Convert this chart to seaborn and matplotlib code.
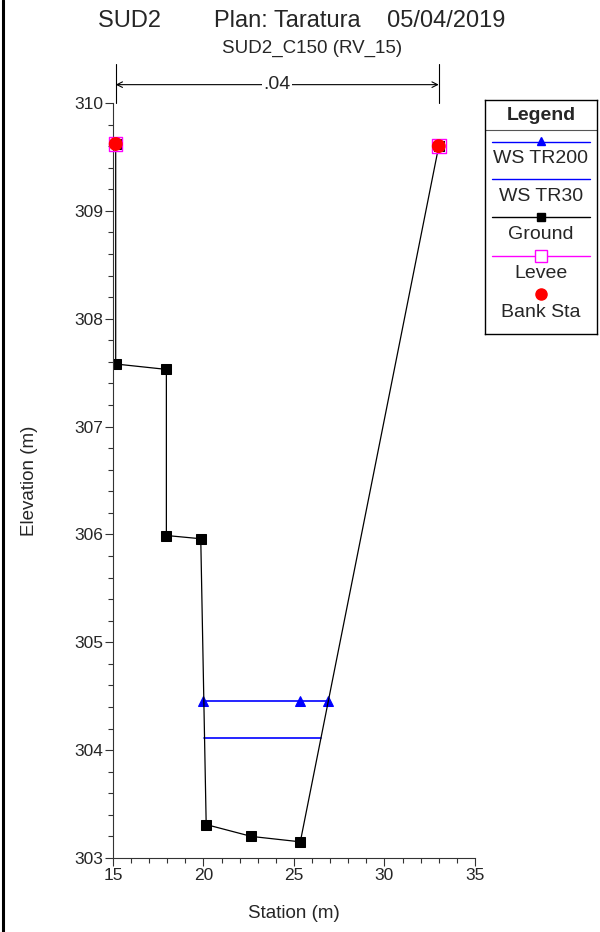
import pandas as pd
import matplotlib.pyplot as plt
import seaborn as sns
from matplotlib.lines import Line2D

# =========================
# DATA
# =========================

ground_sta = [15.15, 15.15, 17.95, 17.95, 19.85, 20.15, 22.65, 25.35, 33.0]
ground_elev = [309.62, 307.58, 307.53, 305.99, 305.96, 303.31, 303.20, 303.15, 309.60]

ws200_sta = [20.0, 25.35, 26.9]
ws200_elev = [304.46, 304.46, 304.46]

ws30_sta = [20.05, 26.5]
ws30_elev = [304.11, 304.11]

bank_sta = [15.15, 33.0]
bank_elev = [309.62, 309.60]

mann_n = ".04"

legend_labels = ["WS TR200", "WS TR30", "Ground", "Levee", "Bank Sta"]

ground = pd.DataFrame({"sta": ground_sta, "elev": ground_elev})
ws200 = pd.DataFrame({"sta": ws200_sta, "elev": ws200_elev})
ws30 = pd.DataFrame({"sta": ws30_sta, "elev": ws30_elev})
banks = pd.DataFrame({"sta": bank_sta, "elev": bank_elev})

# =========================
# STYLE
# =========================

sns.set_style("ticks")
plt.rcParams['font.family'] = ['Liberation Sans', 'DejaVu Sans']

fig = plt.figure(figsize=(6, 9.32), dpi=100)
ax = fig.add_axes([0.1883, 0.0794, 0.6033, 0.8101])

# =========================
# PLOT
# =========================

sns.lineplot(data=ws200, x="sta", y="elev", sort=False, estimator=None, ax=ax,
             color="#0000ff", lw=1.2, marker="^", markersize=7, markeredgecolor="#0000ff")
sns.lineplot(data=ws30, x="sta", y="elev", sort=False, estimator=None, ax=ax,
             color="#0000ff", lw=1.2)
sns.lineplot(data=ground, x="sta", y="elev", sort=False, estimator=None, ax=ax,
             color="black", lw=0.9, marker="s", markersize=6.5, markeredgecolor="black")
sns.scatterplot(data=banks, x="sta", y="elev", ax=ax, marker="s", s=95,
                facecolor="none", edgecolor="#ff00ff", linewidth=1, zorder=4, clip_on=False)
sns.scatterplot(data=banks, x="sta", y="elev", ax=ax, color="red", s=100,
                edgecolor="none", zorder=5, clip_on=False)

ax.set_xlim(15, 35)
ax.set_ylim(303, 310)
ax.set_xticks(range(15, 36, 5))
ax.set_xticks(range(15, 36, 1), minor=True)
ax.set_yticks(range(303, 311))
ax.set_yticks([303 + i * 0.2 for i in range(36)], minor=True)
ax.set_yticklabels([str(v) for v in range(303, 311)])
ax.tick_params(labelsize=12.5, length=6, width=0.8, color="#333333", pad=1)
ax.tick_params(which="minor", length=3.5, width=0.8, color="#333333")
ax.spines["top"].set_visible(False)
ax.spines["right"].set_visible(False)
for s in ["left", "bottom"]:
    ax.spines[s].set_color("#333333")
    ax.spines[s].set_linewidth(0.8)
ax.set_xlabel("Station (m)", fontsize=13.5, labelpad=16)
ax.set_ylabel("Elevation (m)", fontsize=13.5, labelpad=26)

# Manning n bracket above the bank stations
for b in bank_sta:
    ax.plot([b, b], [310, 310.36], color="black", lw=0.8, clip_on=False)
ax.annotate("", xy=(bank_sta[0], 310.17), xytext=(bank_sta[1], 310.17),
            arrowprops=dict(arrowstyle="<->", color="black", lw=0.8,
                            shrinkA=0, shrinkB=0), annotation_clip=False)
ax.text(sum(bank_sta) / 2, 310.17, mann_n, ha="center", va="center", fontsize=14,
        bbox=dict(facecolor="white", edgecolor="none", pad=1), clip_on=False)

# titles
fig.text(0.503, 0.9775, "SUD2        Plan: Taratura    05/04/2019", ha="center", va="center", fontsize=17)
fig.text(0.52, 0.948, "SUD2_C150 (RV_15)", ha="center", va="center", fontsize=13.5)

# left border of the window
fig.add_artist(Line2D([0.005, 0.005], [0, 1], color="black", lw=2.2))

# =========================
# LEGEND (custom box)
# =========================

lg = fig.add_axes([0.8083, 0.6416, 0.1867, 0.2511])
lg.set_xlim(0, 112)
lg.set_ylim(234, 0)
lg.set_xticks([])
lg.set_yticks([])
for s in lg.spines.values():
    s.set_color("black")
    s.set_linewidth(1)
lg.text(56, 15, "Legend", ha="center", va="center", fontsize=14, fontweight="bold")
lg.axhline(30, color="#555555", lw=0.8)

row_line = [42, 79, 117, 156, 194]
row_text = [58, 96, 134, 173, 212]
lg.plot([7, 105], [row_line[0]] * 2, color="#0000ff", lw=1)
lg.plot([56], [row_line[0] - 1], marker="^", color="#0000ff", markersize=6)
lg.plot([7, 105], [row_line[1]] * 2, color="#0000ff", lw=1)
lg.plot([7, 105], [row_line[2]] * 2, color="black", lw=1)
lg.plot([56], [row_line[2]], marker="s", color="black", markersize=6)
lg.plot([7, 105], [row_line[3]] * 2, color="#ff00ff", lw=1)
lg.plot([56], [row_line[3]], marker="s", markerfacecolor="white",
        markeredgecolor="#ff00ff", markersize=8, markeredgewidth=1)
lg.plot([56], [row_line[4]], marker="o", color="red", markersize=8)
for lab, ty in zip(legend_labels, row_text):
    lg.text(56, ty, lab, ha="center", va="center", fontsize=14)

plt.savefig("out.png", dpi=100)
